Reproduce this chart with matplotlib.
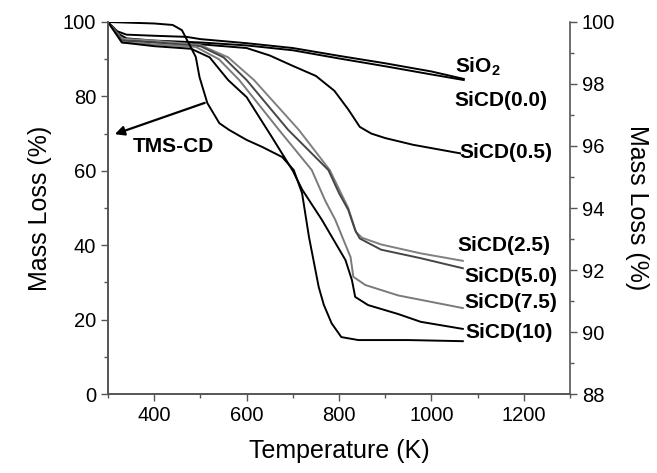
import matplotlib
matplotlib.use("Agg")
from matplotlib import pyplot as plt
from matplotlib.ticker import MultipleLocator

plt.rcParams['font.family'] = ['Liberation Sans', 'DejaVu Sans']
plt.rcParams['mathtext.fontset'] = 'custom'
plt.rcParams['mathtext.bf'] = 'Liberation Sans:bold'
plt.rcParams['mathtext.rm'] = 'Liberation Sans'

# curves: temperature (K), mass (%)
sio2_t = [300, 320, 340, 400, 470, 500, 600, 700, 800, 900, 1000, 1070]
sio2_m = [100, 97.5, 96.6, 96.3, 96.0, 95.4, 94.3, 93.0, 90.9, 88.9, 86.7, 84.7]

sicd00_t = [300, 320, 340, 400, 500, 600, 700, 800, 900, 1000, 1070]
sicd00_m = [100, 97.0, 95.6, 95.0, 94.5, 93.7, 92.4, 90.2, 88.1, 85.9, 84.4]

sicd05_t = [300, 330, 400, 500, 600, 650, 700, 750, 790, 820, 845, 870, 900, 960, 1062]
sicd05_m = [100, 95.5, 94.6, 94.0, 93.0, 91.0, 88.2, 85.5, 81.5, 76.5, 71.8, 70.0, 68.8, 67.0, 64.7]

sicd25_t = [300, 330, 400, 500, 560, 616, 713, 780, 820, 837, 850, 891, 977, 1068]
sicd25_m = [100, 95.5, 95.0, 93.8, 90.5, 84.4, 71.0, 60.2, 50.0, 43.5, 42.0, 40.2, 37.8, 35.8]

sicd50_t = [300, 330, 400, 500, 550, 600, 690, 777, 800, 820, 835, 845, 891, 977, 1068]
sicd50_m = [100, 95.0, 94.5, 93.5, 90.5, 84.4, 71.0, 60.2, 54.0, 49.5, 44.0, 41.8, 38.8, 36.5, 33.8]

sicd75_t = [300, 330, 400, 490, 540, 584, 670, 741, 770, 792, 825, 831, 857, 928, 1068]
sicd75_m = [100, 94.5, 94.0, 93.3, 90.0, 84.4, 71.0, 60.2, 52.0, 46.8, 36.8, 31.5, 29.3, 26.5, 23.1]

sicd10_t = [300, 330, 400, 480, 520, 560, 600, 655, 700, 720, 763, 814, 828, 835, 863, 928, 977, 1068]
sicd10_m = [100, 94.5, 93.5, 92.8, 90.5, 84.4, 79.8, 69.0, 60.0, 55.0, 46.8, 36.0, 30.6, 26.1, 23.9, 21.5, 19.4, 17.5]

tms_t = [300, 350, 400, 440, 460, 480, 490, 498, 515, 541, 562, 600, 634, 677, 702, 720,
         735, 756, 767, 784, 805, 842, 950, 1068]
tms_m = [100, 99.8, 99.6, 99.2, 97.8, 93.0, 90.6, 85.2, 78.2, 72.8, 71.0, 68.3, 66.4, 63.7,
         60.2, 54.0, 42.2, 28.8, 24.0, 19.0, 15.3, 14.5, 14.5, 14.2]

curves = [
    (sio2_t, sio2_m, 'black'),
    (sicd00_t, sicd00_m, 'black'),
    (sicd05_t, sicd05_m, 'black'),
    (sicd25_t, sicd25_m, '#808080'),
    (sicd50_t, sicd50_m, '#454545'),
    (sicd75_t, sicd75_m, '#7a7a7a'),
    (sicd10_t, sicd10_m, 'black'),
    (tms_t, tms_m, 'black'),
]

# label text, x, y
labels = [
    (r'SiO$_\mathbf{2}$', 1052, 88.0),
    ('SiCD(0.0)', 1050, 79.0),
    ('SiCD(0.5)', 1061, 64.8),
    ('SiCD(2.5)', 1057, 40.0),
    ('SiCD(5.0)', 1072, 31.5),
    ('SiCD(7.5)', 1072, 24.5),
    ('SiCD(10)', 1074, 16.4),
]

fig = plt.figure(figsize=(6.57, 4.73), dpi=100)
ax = fig.add_axes([0.1644, 0.167, 0.7032, 0.7865])

for t, m, c in curves:
    ax.plot(t, m, color=c, lw=1.4)

for txt, x, y in labels:
    ax.text(x, y, txt, fontsize=15, fontweight='bold', va='center', ha='left')

ax.text(354, 66.4, 'TMS-CD', fontsize=15, fontweight='bold', va='center', ha='left')
ax.annotate('', xy=(309, 69.6), xytext=(515, 78.5),
            arrowprops=dict(arrowstyle='-|>', color='black', lw=1.6, mutation_scale=14))

ax.set_xlim(300, 1300)
ax.set_ylim(0, 100)
ax.xaxis.set_major_locator(MultipleLocator(200))
ax.xaxis.set_minor_locator(MultipleLocator(100))
ax.yaxis.set_major_locator(MultipleLocator(20))
ax.yaxis.set_minor_locator(MultipleLocator(10))
ax.set_xticks([400, 600, 800, 1000, 1200])
ax.set_xlabel('Temperature (K)', fontsize=18, labelpad=10)
ax.set_ylabel('Mass Loss (%)', fontsize=18, labelpad=8)

ax2 = ax.twinx()
ax2.set_ylim(88, 100)
ax2.yaxis.set_major_locator(MultipleLocator(2))
ax2.yaxis.set_minor_locator(MultipleLocator(1))
ax2.set_ylabel('Mass Loss (%)', fontsize=18, rotation=-90, labelpad=24)

for a in (ax, ax2):
    a.spines['top'].set_visible(False)
    for s in a.spines.values():
        s.set_color('#555555')
        s.set_linewidth(1.2)
    a.tick_params(which='major', length=5, width=1, color='#555555', labelsize=14.5)
    a.tick_params(which='minor', length=3, width=1, color='#555555')
ax.spines['right'].set_visible(False)

fig.savefig('out.png', dpi=100)
